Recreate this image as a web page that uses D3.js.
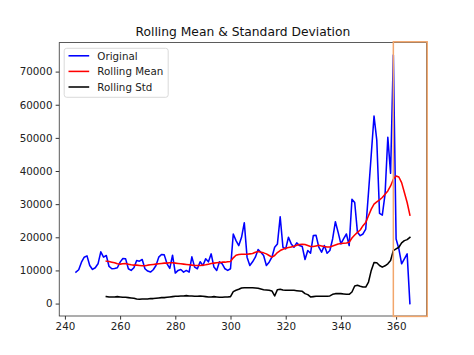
<!DOCTYPE html>
<html>
<head>
<meta charset="utf-8">
<script src="https://cdn.jsdelivr.net/npm/d3@7"></script>
<style>
  html, body { margin: 0; padding: 0; background: #fff; }
  svg { display: block; font-family: "DejaVu Sans", sans-serif; }
</style>
</head>
<body>
<svg id="chart" width="474" height="355"></svg>
<script>
// ---- data ----
const startX = 244;
const original = [
  9500, 10200, 12500, 14000, 14400, 11500, 10300, 10800, 12000, 15600,
  14000, 14500, 11200, 10500, 10600, 10800, 12500, 13600, 13500, 10500,
  10000, 10800, 13000, 12800, 13300, 10500, 9800, 9500, 10200, 11500,
  14000, 14800, 14700, 12000, 10600, 14600, 9200, 10000, 10300, 9500,
  10000, 9500, 14100, 11000, 10500, 12600, 11500, 13500, 12600, 15000,
  11000, 10000, 12600, 12000, 10500, 10000, 10500, 21000, 19000, 17500,
  20000, 24400, 14000, 11500, 12600, 14000, 16300, 15500, 14500, 11500,
  12500, 14000, 17000, 18000, 26200, 17000, 16500, 20000, 18000, 17000,
  18300, 17500, 17200, 13300, 16000, 15200, 20500, 20600, 17000, 15500,
  17500, 15200, 16000, 19500, 24700, 21500, 18000, 19600, 21000, 17500,
  31500, 30500, 21500, 20500, 21000, 22500, 33500, 45000, 56600, 49300,
  27200, 26700, 33000, 50200, 39300, 75000, 19500, 16500, 12000, 13500,
  15000, 0
];
const rollStart = 255;
const rollingMean = [
  12800, 12700, 12500, 12300, 12000, 11900, 12000, 12100, 11900, 11700,
  11600, 11600, 11500, 11400, 11400, 11600, 11700, 11800, 11900, 12000,
  12100, 12200, 12200, 12300, 12300, 12200, 12100, 12000, 11900, 11800,
  11700, 11600, 11500, 11500, 11500, 11600, 11700, 11900, 12100, 12200,
  12300, 12400, 12500, 12500, 12600, 12700, 13800, 14600, 14800, 14900,
  14900, 14900, 15000, 15100, 15500, 15700, 15500, 15300, 15000, 14500,
  14000, 14500, 15400, 16000, 16400, 16700, 16900, 17100, 17300, 17600,
  17800, 17900, 17800, 17500, 17200, 17200, 17400, 17600, 17400, 17200,
  17100, 17100, 17400, 17700, 18000, 18100, 18200, 18300, 18500, 19800,
  20700, 21500, 22200, 23500, 24500, 26500, 28500, 30000, 30700, 31300,
  32000, 33000, 34000, 35500, 37500, 38500, 38200, 36500, 33500, 30500,
  26700
];
const rollingStd = [
  2100, 2000, 2000, 2000, 2100, 2000, 1900, 1900, 1800, 1700,
  1600, 1400, 1300, 1400, 1400, 1400, 1500, 1500, 1600, 1700,
  1800, 1800, 1900, 2000, 2100, 2200, 2200, 2300, 2300, 2400,
  2300, 2300, 2200, 2200, 2300, 2200, 2100, 2000, 2000, 2100,
  2000, 1900, 1900, 2000, 2000, 2100, 3600, 4000, 4300, 4700,
  4800, 4800, 4800, 4800, 4700, 4600, 4400, 4200, 4100, 4000,
  3800, 2300, 4200, 4300, 4100, 4000, 4000, 4000, 4000, 3900,
  3800, 3700, 3000, 2700, 2000, 2100, 2200, 2200, 2200, 2200,
  2200, 2300, 2800, 3000, 3000, 3000, 2900, 2800, 2800, 3500,
  5300, 5500, 5200, 5000, 5000, 6500, 10000, 12400, 12300, 11500,
  11000, 11400, 12000, 13000, 16000, 16500, 17000, 18300, 19000, 19300,
  20000
];
const xTicks = [240, 260, 280, 300, 320, 340, 360];
const yTicks = [0, 10000, 20000, 30000, 40000, 50000, 60000, 70000];
const seriesNames = ["Original", "Rolling Mean", "Rolling Std"];
const seriesColors = ["#0000ff", "#ff0000", "#000000"];
const titleText = "Rolling Mean & Standard Deviation";
const highlightFrom = 359;

// ---- layout ----
const W = 474, H = 355;
const L = 59.25, R = 426.6, T = 42.6, B = 316;

const toPts = (arr, s) => arr.map((v, i) => ({ x: s + i, y: v }));
const sOrig = toPts(original, startX);
const sMean = toPts(rollingMean, rollStart);
const sStd = toPts(rollingStd, rollStart);

const xMin = startX, xMax = startX + original.length - 1;
const xPad = (xMax - xMin) * 0.05;
const yMinD = 0, yMaxD = 75000;
const yPad = (yMaxD - yMinD) * 0.05;

const x = d3.scaleLinear().domain([xMin - xPad, xMax + xPad]).range([L, R]);
const y = d3.scaleLinear().domain([yMinD - yPad, yMaxD + yPad]).range([B, T]);

const svg = d3.select("#chart");
svg.append("rect").attr("width", W).attr("height", H).attr("fill", "#fff");

const clip = svg.append("defs").append("clipPath").attr("id", "clip")
  .append("rect").attr("x", L).attr("y", T).attr("width", R - L).attr("height", B - T);

const line = d3.line().x(d => x(d.x)).y(d => y(d.y));
const g = svg.append("g").attr("clip-path", "url(#clip)");
[sOrig, sMean, sStd].forEach((s, i) => {
  g.append("path").datum(s).attr("d", line)
    .attr("fill", "none").attr("stroke", seriesColors[i])
    .attr("stroke-width", 1.55).attr("stroke-linejoin", "round").attr("stroke-linecap", "square");
});

// axes
const fs = 10.3;
const xAxis = d3.axisBottom(x).tickValues(xTicks).tickSize(3.6).tickPadding(3.2).tickFormat(d3.format("d"));
const yAxis = d3.axisLeft(y).tickValues(yTicks).tickSize(3.6).tickPadding(3.2).tickFormat(d3.format("d"));
const gx = svg.append("g").attr("transform", `translate(0,${B})`).call(xAxis);
const gy = svg.append("g").attr("transform", `translate(${L},0)`).call(yAxis);
[gx, gy].forEach(a => {
  a.select(".domain").remove();
  a.selectAll(".tick line").attr("stroke", "#000").attr("stroke-width", 0.8);
  a.selectAll(".tick text").attr("fill", "#222").style("font-size", fs + "px")
    .style("font-family", "DejaVu Sans, sans-serif");
});

// spines
svg.append("rect").attr("x", L).attr("y", T).attr("width", R - L).attr("height", B - T)
  .attr("fill", "none").attr("stroke", "#333").attr("stroke-width", 0.8);

// highlight rectangle
svg.append("rect")
  .attr("x", x(highlightFrom)).attr("y", T - 0.8)
  .attr("width", R - x(highlightFrom) + 0.6).attr("height", B - T + 1.2)
  .attr("fill", "none").attr("stroke", "#f2a66b").attr("stroke-width", 1.5);

// title
svg.append("text").attr("x", (L + R) / 2).attr("y", 36)
  .attr("text-anchor", "middle").style("font-size", "12.3px").attr("fill", "#111")
  .text(titleText);

// legend
const lg = svg.append("g");
lg.append("rect").attr("x", 64.2).attr("y", 48.3).attr("width", 104).attr("height", 49)
  .attr("rx", 2.5).attr("fill", "#fff").attr("fill-opacity", 0.8)
  .attr("stroke", "#d0d0d0").attr("stroke-width", 0.8);
seriesNames.forEach((n, i) => {
  const yy = 55.8 + i * 15.6;
  lg.append("line").attr("x1", 68.5).attr("x2", 89.2).attr("y1", yy).attr("y2", yy)
    .attr("stroke", seriesColors[i]).attr("stroke-width", 1.55);
  lg.append("text").attr("x", 97.3).attr("y", yy).attr("dy", "0.36em")
    .style("font-size", fs + "px").attr("fill", "#222").text(n);
});
</script>
</body>
</html>
